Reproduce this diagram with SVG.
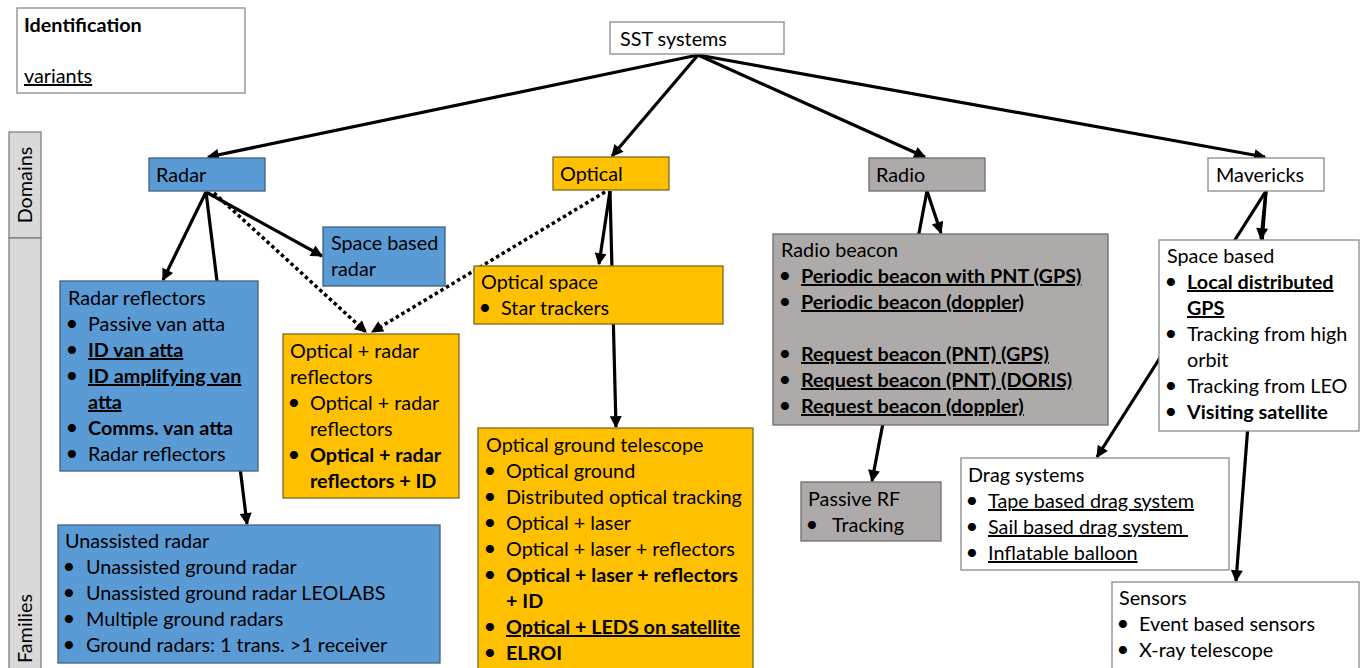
<svg xmlns="http://www.w3.org/2000/svg" width="1360" height="668" viewBox="0 0 1360 668">
  <style>
    text { font-family: Lato, "Open Sans", sans-serif; font-size: 19.8px; fill: #000; white-space: pre; }
    .b { font-weight: bold; }
    .u { text-decoration: underline; }
    .bl { text-anchor: middle; font-size: 22px; }
    .blue { fill: #5b9bd5; stroke: #41607e; stroke-width: 1.3; }
    .orange { fill: #ffc000; stroke: #7f6a20; stroke-width: 1.3; }
    .grey { fill: #aeaaaa; stroke: #6f6d6d; stroke-width: 1.3; }
    .white { fill: #fff; stroke: #8a8a8a; stroke-width: 1.3; }
    .side { fill: #d9d9d9; stroke: #7f7f7f; stroke-width: 1.3; }
    .edge { stroke: #000; stroke-width: 3.2; fill: none; }
    .arrow { marker-end: url(#head); }
    .dot { stroke-dasharray: 3.5 3; stroke-width: 3.5; }
  </style>
  <defs>
    <marker id="head" viewBox="0 0 10 10" refX="9" refY="5" markerWidth="15" markerHeight="12" markerUnits="userSpaceOnUse" orient="auto">
      <path d="M0,0 L10,5 L0,10 Z" fill="#000"/>
    </marker>
  </defs>

  <!-- legend -->
  <g id="legend">
    <rect class="white" x="17" y="8" width="228" height="85"/>
    <text class="b" x="24" y="32">Identification</text>
    <text class="u" x="24" y="83">variants</text>
  </g>

  <!-- level bar -->
  <g id="levels">
    <rect class="side" x="9" y="132" width="32" height="106"/>
    <rect class="side" x="9" y="238" width="32" height="440"/>
    <text x="32" y="185" text-anchor="middle" transform="rotate(-90 32 185)">Domains</text>
    <text x="32" y="663" transform="rotate(-90 32 663)">Families</text>
  </g>

  <!-- connectors (drawn under the boxes) -->
  <g id="connectors">
    <line class="edge arrow" x1="698" y1="55" x2="208" y2="157"/>
    <line class="edge arrow" x1="698" y1="55" x2="612" y2="156"/>
    <line class="edge arrow" x1="698" y1="55" x2="925" y2="157"/>
    <line class="edge arrow" x1="698" y1="55" x2="1265" y2="157"/>

    <line class="edge arrow" x1="206" y1="192" x2="163" y2="280"/>
    <line class="edge arrow" x1="206" y1="192" x2="247" y2="524"/>
    <line class="edge arrow" x1="206" y1="192" x2="322" y2="256"/>
    <line class="edge arrow dot" x1="214" y1="193" x2="366" y2="332"/>
    <line class="edge arrow dot" x1="605" y1="192" x2="372" y2="332"/>

    <line class="edge arrow" x1="610" y1="191" x2="599" y2="264"/>
    <line class="edge arrow" x1="610" y1="191" x2="616" y2="427"/>

    <line class="edge arrow" x1="927" y1="191" x2="941" y2="233"/>
    <line class="edge arrow" x1="927" y1="191" x2="872" y2="481"/>

    <line class="edge arrow" x1="1266" y1="191" x2="1261" y2="239"/>
    <line class="edge arrow" x1="1266" y1="191" x2="1097" y2="457"/>
    <line class="edge arrow" x1="1266" y1="191" x2="1236" y2="581"/>
  </g>

  <!-- root -->
  <g id="sst">
    <rect class="white" x="610" y="22" width="174" height="32"/>
    <text x="620" y="46">SST systems</text>
  </g>

  <!-- domains -->
  <g id="radar">
    <rect class="blue" x="149" y="158" width="116" height="33"/>
    <text x="156" y="182">Radar</text>
  </g>
  <g id="optical">
    <rect class="orange" x="553" y="157" width="116" height="33"/>
    <text x="560" y="181">Optical</text>
  </g>
  <g id="radio">
    <rect class="grey" x="869" y="158" width="116" height="33"/>
    <text x="876" y="182">Radio</text>
  </g>
  <g id="mavericks">
    <rect class="white" x="1208" y="158" width="116" height="33"/>
    <text x="1216" y="182">Mavericks</text>
  </g>

  <!-- families -->
  <g id="space-based-radar">
    <rect class="blue" x="323" y="227" width="122" height="59"/>
    <text x="331" y="250">Space based</text>
    <text x="331" y="276">radar</text>
  </g>

  <g id="radar-reflectors">
    <rect class="blue" x="60" y="281" width="198" height="190"/>
    <text x="68" y="305">Radar reflectors</text>
    <text class="bl" x="72" y="331">•</text><text x="88" y="331">Passive van atta</text>
    <text class="bl" x="72" y="357">•</text><text class="b u" x="88" y="357">ID van atta</text>
    <text class="bl" x="72" y="383">•</text><text class="b u" x="88" y="383">ID amplifying van</text>
    <text class="b u" x="88" y="409">atta</text>
    <text class="bl" x="72" y="435">•</text><text class="b" x="88" y="435">Comms. van atta</text>
    <text class="bl" x="72" y="461">•</text><text x="88" y="461">Radar reflectors</text>
  </g>

  <g id="optical-radar-reflectors">
    <rect class="orange" x="283" y="334" width="176" height="164"/>
    <text x="290" y="358">Optical + radar</text>
    <text x="290" y="384">reflectors</text>
    <text class="bl" x="294" y="410">•</text><text x="310" y="410">Optical + radar</text>
    <text x="310" y="436">reflectors</text>
    <text class="bl" x="294" y="462">•</text><text class="b" x="310" y="462">Optical + radar</text>
    <text class="b" x="310" y="488">reflectors + ID</text>
  </g>

  <g id="unassisted-radar">
    <rect class="blue" x="58" y="525" width="382" height="138"/>
    <text x="65" y="548">Unassisted radar</text>
    <text class="bl" x="69" y="574">•</text><text x="86" y="574">Unassisted ground radar</text>
    <text class="bl" x="69" y="600">•</text><text x="86" y="600">Unassisted ground radar LEOLABS</text>
    <text class="bl" x="69" y="626">•</text><text x="86" y="626">Multiple ground radars</text>
    <text class="bl" x="69" y="652">•</text><text x="86" y="652">Ground radars: 1 trans. &gt;1 receiver</text>
  </g>

  <g id="optical-space">
    <rect class="orange" x="474" y="266" width="249" height="58"/>
    <text x="481" y="289">Optical space</text>
    <text class="bl" x="485" y="315">•</text><text x="501" y="315">Star trackers</text>
  </g>

  <g id="optical-ground">
    <rect class="orange" x="478" y="428" width="275" height="250"/>
    <text x="486" y="452">Optical ground telescope</text>
    <text class="bl" x="490" y="478">•</text><text x="506" y="478">Optical ground</text>
    <text class="bl" x="490" y="504">•</text><text x="506" y="504">Distributed optical tracking</text>
    <text class="bl" x="490" y="530">•</text><text x="506" y="530">Optical + laser</text>
    <text class="bl" x="490" y="556">•</text><text x="506" y="556">Optical + laser + reflectors</text>
    <text class="bl" x="490" y="582">•</text><text class="b" x="506" y="582">Optical + laser + reflectors</text>
    <text class="b" x="506" y="608">+ ID</text>
    <text class="bl" x="490" y="634">•</text><text class="b u" x="506" y="634">Optical + LEDS on satellite</text>
    <text class="bl" x="490" y="660">•</text><text class="b" x="506" y="660">ELROI</text>
  </g>

  <g id="radio-beacon">
    <rect class="grey" x="773" y="234" width="335" height="191"/>
    <text x="781" y="257">Radio beacon</text>
    <text class="bl" x="785" y="283">•</text><text class="b u" x="801" y="283">Periodic beacon with PNT (GPS)</text>
    <text class="bl" x="785" y="309">•</text><text class="b u" x="801" y="309">Periodic beacon (doppler)</text>
    <text class="bl" x="785" y="361">•</text><text class="b u" x="801" y="361">Request beacon (PNT) (GPS)</text>
    <text class="bl" x="785" y="387">•</text><text class="b u" x="801" y="387">Request beacon (PNT) (DORIS)</text>
    <text class="bl" x="785" y="413">•</text><text class="b u" x="801" y="413">Request beacon (doppler)</text>
  </g>

  <g id="passive-rf">
    <rect class="grey" x="801" y="482" width="140" height="59"/>
    <text x="808" y="506">Passive RF</text>
    <text class="bl" x="812" y="532">•</text><text x="832" y="532">Tracking</text>
  </g>

  <g id="space-based">
    <rect class="white" x="1159" y="240" width="200" height="191"/>
    <text x="1167" y="263">Space based</text>
    <text class="bl" x="1171" y="289">•</text><text class="b u" x="1187" y="289">Local distributed</text>
    <text class="b u" x="1187" y="315">GPS</text>
    <text class="bl" x="1171" y="341">•</text><text x="1187" y="341">Tracking from high</text>
    <text x="1187" y="367">orbit</text>
    <text class="bl" x="1171" y="393">•</text><text x="1187" y="393">Tracking from LEO</text>
    <text class="bl" x="1171" y="419">•</text><text class="b" x="1187" y="419">Visiting satellite</text>
  </g>

  <g id="drag-systems">
    <rect class="white" x="961" y="458" width="268" height="112"/>
    <text x="968" y="482">Drag systems</text>
    <text class="bl" x="972" y="508">•</text><text class="u" x="988" y="508">Tape based drag system</text>
    <text class="bl" x="972" y="534">•</text><text class="u" x="988" y="534">Sail based drag system </text>
    <text class="bl" x="972" y="560">•</text><text class="u" x="988" y="560">Inflatable balloon</text>
  </g>

  <g id="sensors">
    <rect class="white" x="1112" y="582" width="247" height="90"/>
    <text x="1119" y="605">Sensors</text>
    <text class="bl" x="1123" y="631">•</text><text x="1139" y="631">Event based sensors</text>
    <text class="bl" x="1123" y="657">•</text><text x="1139" y="657">X-ray telescope</text>
  </g>
</svg>
